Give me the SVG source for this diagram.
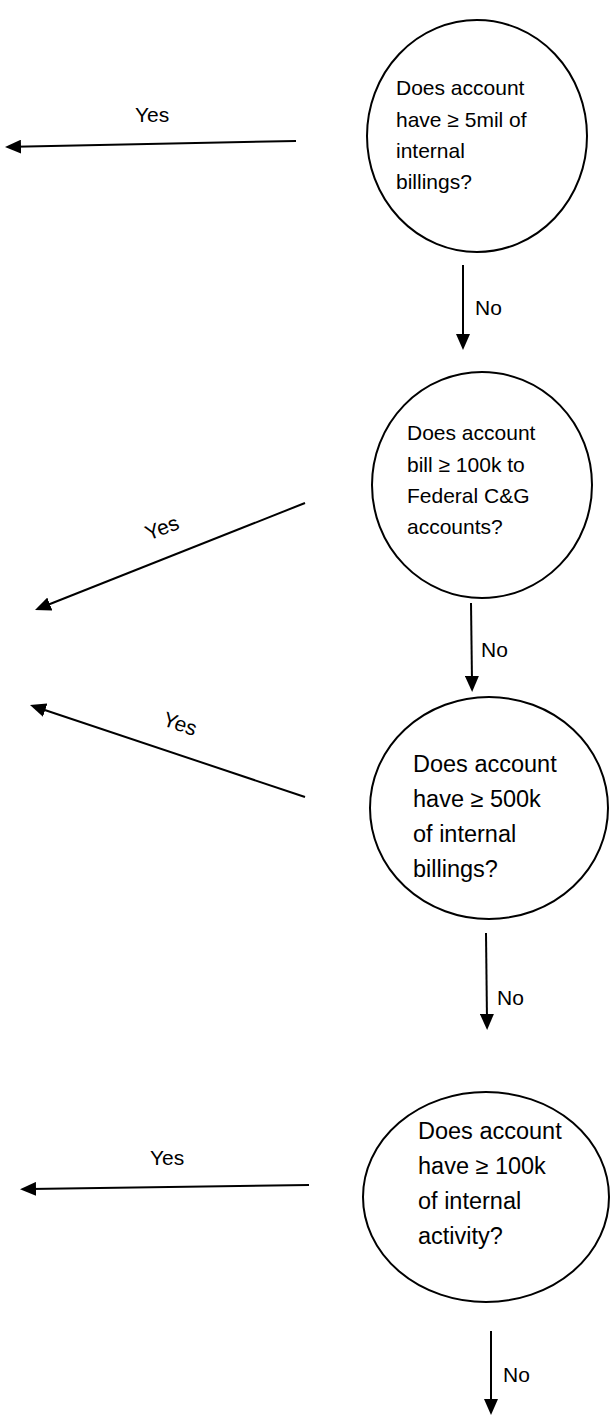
<svg xmlns="http://www.w3.org/2000/svg" width="613" height="1416" viewBox="0 0 613 1416">
<style>
.node{fill:#fff;stroke:#000;stroke-width:2}
.t{font-family:"Liberation Sans",Arial,sans-serif;font-size:21px;fill:#000}
.tb{font-family:"Liberation Sans",Arial,sans-serif;font-size:23.5px;fill:#000}
.lbl{font-family:"Liberation Sans",Arial,sans-serif;font-size:21px;fill:#000}
.edge{stroke:#000;stroke-width:2;fill:none;marker-end:url(#ah)}
</style>
<defs>
<marker id="ah" markerUnits="userSpaceOnUse" markerWidth="16" markerHeight="14" refX="6" refY="7" orient="auto">
<path d="M0,0 L16,7 L0,14 z" fill="#000"/>
</marker>
</defs>
<rect width="613" height="1416" fill="#fff"/>
<g id="connectors">
<line class="edge" x1="296" y1="141" x2="15" y2="146.8"/>
<line class="edge" x1="463" y1="265" x2="463" y2="340"/>
<line class="edge" x1="305" y1="503" x2="44.3" y2="606.3"/>
<line class="edge" x1="471" y1="603" x2="472" y2="682"/>
<line class="edge" x1="305" y1="797" x2="39.5" y2="708.2"/>
<line class="edge" x1="486" y1="933" x2="487" y2="1020"/>
<line class="edge" x1="309" y1="1185" x2="30" y2="1189"/>
<line class="edge" x1="491" y1="1331" x2="491" y2="1405"/>
<text class="lbl" x="135" y="122">Yes</text>
<text class="lbl" x="475" y="315">No</text>
<text class="lbl" x="162" y="535" text-anchor="middle" transform="rotate(-21 162 528)">Yes</text>
<text class="lbl" x="481" y="657">No</text>
<text class="lbl" x="180" y="731" text-anchor="middle" transform="rotate(19 180 724)">Yes</text>
<text class="lbl" x="497" y="1005">No</text>
<text class="lbl" x="150" y="1165">Yes</text>
<text class="lbl" x="503" y="1382">No</text>
</g>
<g id="q1">
<ellipse class="node" cx="477" cy="136" rx="110" ry="116"/>
<text class="t" x="396" y="95">Does account</text>
<text class="t" x="396" y="127">have ≥ 5mil of</text>
<text class="t" x="396" y="158">internal</text>
<text class="t" x="396" y="189">billings?</text>
</g>
<g id="q2">
<ellipse class="node" cx="482" cy="485" rx="110" ry="113"/>
<text class="t" x="407" y="440">Does account</text>
<text class="t" x="407" y="472">bill ≥ 100k to</text>
<text class="t" x="407" y="503">Federal C&amp;G</text>
<text class="t" x="407" y="534">accounts?</text>
</g>
<g id="q3">
<ellipse class="node" cx="489" cy="808" rx="119" ry="111"/>
<text class="tb" x="413" y="772">Does account</text>
<text class="tb" x="413" y="807">have ≥ 500k</text>
<text class="tb" x="413" y="842">of internal</text>
<text class="tb" x="413" y="877">billings?</text>
</g>
<g id="q4">
<ellipse class="node" cx="486" cy="1197" rx="123" ry="105"/>
<text class="tb" x="418" y="1139">Does account</text>
<text class="tb" x="418" y="1174">have ≥ 100k</text>
<text class="tb" x="418" y="1209">of internal</text>
<text class="tb" x="418" y="1244">activity?</text>
</g>
</svg>
